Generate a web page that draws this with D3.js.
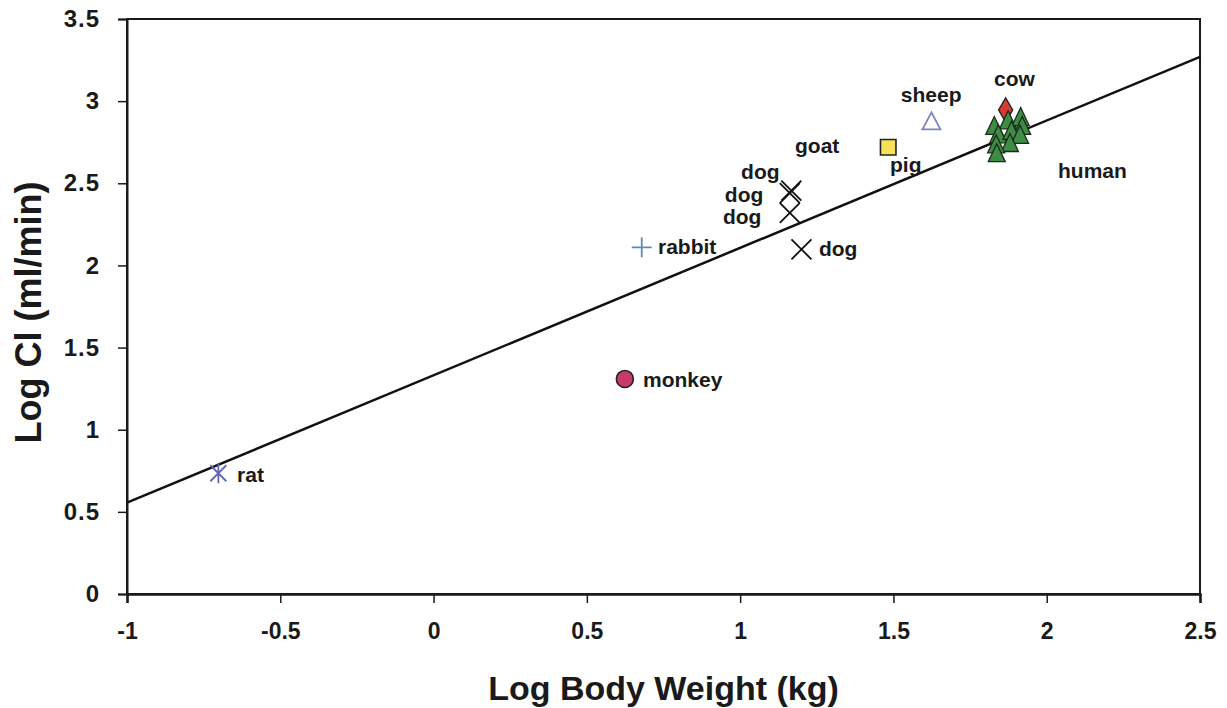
<!DOCTYPE html>
<html>
<head>
<meta charset="utf-8">
<script src="https://cdn.jsdelivr.net/npm/d3@7"></script>
<style>
  body { margin: 0; background: #fff; }
  text { font-family: "Liberation Sans", Arial, sans-serif; font-weight: bold; fill: #1a1a1a; }
</style>
</head>
<body>
<div id="chart"></div>
<script>
// ------------------------------------------------------------------------ //
// DATA
// ------------------------------------------------------------------------ //

var xTicks = [-1, -0.5, 0, 0.5, 1, 1.5, 2, 2.5]
var yTicks = [0, 0.5, 1, 1.5, 2, 2.5, 3, 3.5]

// regression line end points
var fitX = [-1, 2.5]
var fitY = [0.556, 3.27]

// species points [log body weight, log CL]
var ratPts = [[-0.702, 0.735]]
var rabbitPts = [[0.679, 2.11]]
var monkeyPts = [[0.624, 1.309]]
var dogPts = [[1.162, 2.44], [1.167, 2.455], [1.162, 2.32], [1.20, 2.098]]
var pigPts = [[1.483, 2.719]]
var sheepPts = [[1.624, 2.871]]
var cowPts = [[1.866, 2.946]]
var humanPts = [
  [1.829, 2.834], [1.874, 2.868], [1.915, 2.888], [1.920, 2.834], [1.842, 2.783],
  [1.885, 2.804], [1.913, 2.780], [1.880, 2.730], [1.835, 2.722], [1.837, 2.668]
]

// annotation text, anchored in data units (left / middle)
var labelText = ["rat", "rabbit", "monkey", "dog", "dog", "dog", "dog", "goat", "pig", "sheep", "cow", "human"]
var labelX = [-0.641, 0.732, 0.683, 1.257, 1.003, 0.950, 0.944, 1.179, 1.489, 1.524, 1.828, 2.037]
var labelY = [0.724, 2.112, 1.302, 2.10, 2.568, 2.428, 2.295, 2.727, 2.611, 3.037, 3.134, 2.575]

// ------------------------------------------------------------------------ //
// SVG AREA
// ------------------------------------------------------------------------ //

var margin = {top: 19, right: 27, bottom: 114, left: 127},
  width = 1227 - margin.left - margin.right,
  height = 708 - margin.top - margin.bottom;

var svg = d3.select("#chart")
  .append("svg")
    .attr("width", 1227)
    .attr("height", 708)
  .append("g")
    .attr("transform", "translate(" + margin.left + "," + margin.top + ")");

var x = d3.scaleLinear().domain([-1, 2.5]).range([0, width])
var y = d3.scaleLinear().domain([0, 3.5]).range([height, 0])

// frame
svg.append("rect")
  .attr("width", width)
  .attr("height", height)
  .style("fill", "none")
  .style("stroke", "#1a1a1a")
  .style("stroke-width", 2)

// X axis
var xAxis = svg.append("g")
  .attr("transform", "translate(0," + height + ")")
  .call(d3.axisBottom(x).tickValues(xTicks).tickSize(9).tickPadding(20).tickFormat(function(d) { return String(d) }))
xAxis.select(".domain").style("stroke-width", 2.5).style("stroke", "#1a1a1a")
xAxis.selectAll("line").style("stroke-width", 1.5).style("stroke", "#1a1a1a")
xAxis.selectAll("text").style("font-size", "23px").style("font-family", null)

// Y axis
var yAxis = svg.append("g")
  .call(d3.axisLeft(y).tickValues(yTicks).tickSize(9).tickPadding(18).tickFormat(function(d) { return String(d) }))
yAxis.select(".domain").style("stroke-width", 2).style("stroke", "#1a1a1a")
yAxis.selectAll("line").style("stroke-width", 1.5).style("stroke", "#1a1a1a")
yAxis.selectAll("text").style("font-size", "24px").style("letter-spacing", "1px").style("font-family", null)

// axis titles
svg.append("text")
  .attr("x", width / 2)
  .attr("y", height + 106)
  .attr("text-anchor", "middle")
  .style("font-size", "34px")
  .text("Log Body Weight (kg)")

svg.append("text")
  .attr("transform", "translate(" + (-86) + "," + (height / 2 + 6) + ")rotate(-90)")
  .attr("text-anchor", "middle")
  .style("font-size", "36px")
  .text("Log Cl (ml/min)")

// ------------------------------------------------------------------------ //
// FIT LINE
// ------------------------------------------------------------------------ //

svg.append("path")
  .datum(d3.zip(fitX, fitY))
  .attr("d", d3.line().x(function(d) { return x(d[0]) }).y(function(d) { return y(d[1]) }))
  .style("fill", "none")
  .style("stroke", "#111")
  .style("stroke-width", 2.5)

// ------------------------------------------------------------------------ //
// MARKERS
// ------------------------------------------------------------------------ //

function tr(d) { return "translate(" + x(d[0]) + "," + y(d[1]) + ")" }

var timesPath = "M-10,-10L10,10M-10,10L10,-10"
var plusPath = "M-10,0L10,0M0,-10L0,10"
var starPath = "M-8,-8L8,8M-8,8L8,-8M0,-10L0,10"
var trianglePath = "M0,-10L9,7L-9,7Z"
var humanTri = "M0,-12L8.5,6L-8.5,6Z"

function drawMarks(pts, path, fill, stroke, sw) {
  svg.append("g")
    .selectAll("path")
    .data(pts)
    .enter()
    .append("path")
      .attr("transform", tr)
      .attr("d", path)
      .style("fill", fill)
      .style("stroke", stroke)
      .style("stroke-width", sw)
      .style("stroke-linejoin", "miter")
}

drawMarks(ratPts, starPath, "none", "#6466b4", 1.8)
drawMarks(rabbitPts, plusPath, "none", "#5a8cb4", 1.8)
drawMarks(dogPts, timesPath, "none", "#111", 1.8)
drawMarks(sheepPts, trianglePath, "none", "#7a86bc", 1.8)
drawMarks(pigPts, d3.symbol(d3.symbolSquare, 240)(), "#f7e158", "#222", 1.6)
drawMarks(cowPts, d3.symbol(d3.symbolDiamond, 170)(), "#d83c2e", "#222", 1.4)
drawMarks(humanPts, humanTri, "#3d8d45", "#1a2a1a", 1.3)

svg.append("g")
  .selectAll("circle")
  .data(monkeyPts)
  .enter()
  .append("circle")
    .attr("cx", function(d) { return x(d[0]) })
    .attr("cy", function(d) { return y(d[1]) })
    .attr("r", 8.5)
    .style("fill", "#c83a6c")
    .style("stroke", "#222")
    .style("stroke-width", 1.6)

// ------------------------------------------------------------------------ //
// LABELS
// ------------------------------------------------------------------------ //

svg.append("g")
  .selectAll("text")
  .data(labelText)
  .enter()
  .append("text")
    .attr("x", function(d, i) { return x(labelX[i]) })
    .attr("y", function(d, i) { return y(labelY[i]) })
    .attr("dy", "0.35em")
    .style("font-size", "21px")
    .text(function(d) { return d })
</script>
</body>
</html>
